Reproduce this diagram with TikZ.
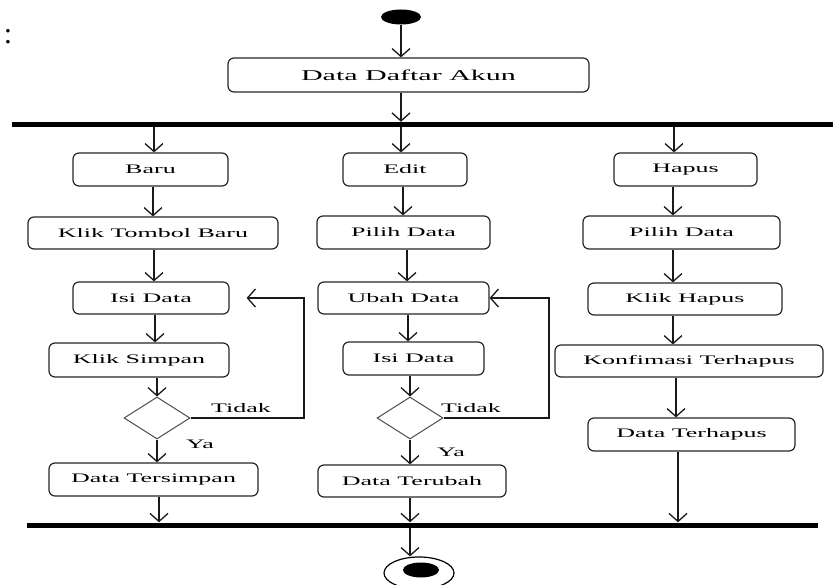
\documentclass[tikz,border=0pt]{standalone}
\usepackage{fontspec}
\setmainfont{Liberation Serif}[FakeStretch=2]
\newfontfamily\plainserif{Liberation Serif}
\usetikzlibrary{arrows.meta,shapes.geometric}
\begin{document}
\begin{tikzpicture}[x=1pt,y=-1pt,
  act/.style={draw=black!85, line width=1.2pt, rounded corners=6pt, minimum height=32pt, inner sep=0pt, font=\fontsize{13}{15}\selectfont},
  dec/.style={diamond, draw=black!70, line width=1pt, minimum width=66pt, minimum height=42pt, inner sep=0pt},
  bar/.style={fill=black, draw=none, minimum height=5pt, inner sep=0pt},
  lbl/.style={font=\fontsize{13}{15}\selectfont, inner sep=0pt},
  arr/.style={-{Straight Barb[length=8pt,width=18pt]}, line width=1.3pt, draw=black!90}]
\useasboundingbox (0,0) rectangle (833,585);
\node[font=\plainserif\fontsize{30}{32}\selectfont, inner sep=0pt] (colon) at (8,37) {:};
\node[ellipse, fill=black, minimum width=40pt, minimum height=15pt, inner sep=0pt] (start) at (401,17) {};
\node[act, minimum width=361pt, minimum height=34pt, font=\fontsize{15}{17}\selectfont] (daftar) at (408.5,75) {Data Daftar Akun};
\node[bar, minimum width=821pt] (fork) at (422.5,124.5) {};
\node[act, minimum width=155pt, minimum height=33pt] (baru) at (150.5,169.5) {Baru};
\node[act, minimum width=124pt, minimum height=33pt] (edit) at (405,169.5) {Edit};
\node[act, minimum width=143pt, minimum height=33pt] (hapus) at (685.5,169.5) {Hapus};
\node[act, minimum width=250pt] (klikbaru) at (153,233) {Klik Tombol Baru};
\node[act, minimum width=173pt, minimum height=33pt] (pilih1) at (403.5,232.5) {Pilih Data};
\node[act, minimum width=197pt, minimum height=33pt] (pilih2) at (681.5,232.5) {Pilih Data};
\node[act, minimum width=156pt] (isi1) at (151,298) {Isi Data};
\node[act, minimum width=171pt] (ubah) at (403.5,298) {Ubah Data};
\node[act, minimum width=194pt] (klikhapus) at (685,299) {Klik Hapus};
\node[act, minimum width=180pt, minimum height=34pt] (simpan) at (139,360) {Klik Simpan};
\node[act, minimum width=141pt, minimum height=33pt] (isi2) at (413.5,358.5) {Isi Data};
\node[act, minimum width=268pt] (konf) at (689,361) {Konfimasi Terhapus};
\node[dec] (d1) at (157,418) {};
\node[dec] (d2) at (410,418) {};
\node[act, minimum width=209pt, minimum height=33pt] (tersimpan) at (153.5,479.5) {Data Tersimpan};
\node[act, minimum width=188pt] (terubah) at (412,481) {Data Terubah};
\node[act, minimum width=207pt, minimum height=33pt] (terhapus) at (691.5,434.5) {Data Terhapus};
\node[bar, minimum width=791pt] (join) at (422.5,525) {};
\node[ellipse, draw=black, line width=1.2pt, minimum width=70pt, minimum height=32pt, inner sep=0pt] (endo) at (419,573) {};
\node[ellipse, fill=black, minimum width=36pt, minimum height=15pt, inner sep=0pt] (endi) at (421,570) {};
\node[lbl] (t1) at (241,408) {Tidak};
\node[lbl] (y1) at (200,444) {Ya};
\node[lbl] (t2) at (471,408) {Tidak};
\node[lbl] (y2) at (451,452) {Ya};
% main flow
\draw[arr] (start) -- (daftar.north -| 401,0);
\draw[arr] (daftar.south -| 401,0) -- (fork.north -| 401,0);
% left column
\draw[arr] (fork.south -| 154,0) -- (baru.north -| 154,0);
\draw[arr] (baru.south -| 153,0) -- (klikbaru.north -| 153,0);
\draw[arr] (klikbaru.south -| 154,0) -- (isi1.north -| 154,0);
\draw[arr] (isi1.south -| 155,0) -- (simpan.north -| 155,0);
\draw[arr] (simpan.south -| d1.north) -- (d1.north);
\draw[arr] (d1.south) -- (tersimpan.north -| d1.south);
\draw[arr] (tersimpan.south -| 159,0) -- (join.north -| 159,0);
\draw[arr] (d1.east) -- (d1.east -| 304,0) |- ([xshift=17pt]isi1.east);
% middle column
\draw[arr] (fork.south -| 401,0) -- (edit.north -| 401,0);
\draw[arr] (edit.south -| 403,0) -- (pilih1.north -| 403,0);
\draw[arr] (pilih1.south -| 407,0) -- (ubah.north -| 407,0);
\draw[arr] (ubah.south -| 408,0) -- (isi2.north -| 408,0);
\draw[arr] (isi2.south -| d2.north) -- (d2.north);
\draw[arr] (d2.south) -- (terubah.north -| d2.south);
\draw[arr] (terubah.south -| 410,0) -- (join.north -| 410,0);
\draw[arr] (d2.east) -- (d2.east -| 549,0) |- (ubah.east);
% right column
\draw[arr] (fork.south -| 674,0) -- (hapus.north -| 674,0);
\draw[arr] (hapus.south -| 673,0) -- (pilih2.north -| 673,0);
\draw[arr] (pilih2.south -| 673,0) -- (klikhapus.north -| 673,0);
\draw[arr] (klikhapus.south -| 673,0) -- (konf.north -| 673,0);
\draw[arr] (konf.south -| 676,0) -- (terhapus.north -| 676,0);
\draw[arr] (terhapus.south -| 678,0) -- (join.north -| 678,0);
% end
\draw[arr] (join.south -| 410,0) -- (endo.north -| 410,0);
\end{tikzpicture}
\end{document}
